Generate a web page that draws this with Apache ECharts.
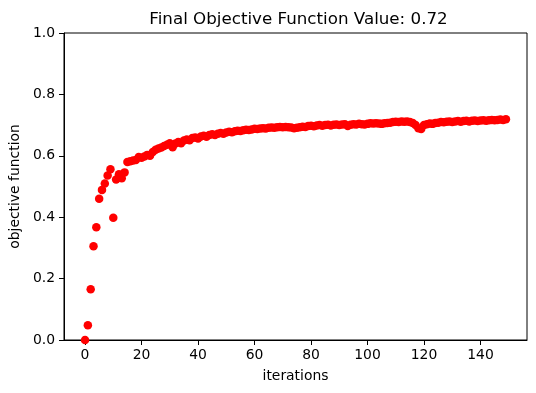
<!DOCTYPE html>
<html>
<head>
<meta charset="utf-8">
<script src="https://cdn.jsdelivr.net/npm/echarts@6/dist/echarts.min.js"></script>
<style>html,body{margin:0;padding:0;background:#fff}#c{width:536px;height:393px}</style>
</head>
<body>
<div id="c"></div>
<script>
const titleText = "Final Objective Function Value: 0.72";
const xLabel = "iterations";
const yLabel = "objective function";
const xTicks = [0, 20, 40, 60, 80, 100, 120, 140];
const yTicks = [0, 0.2, 0.4, 0.6, 0.8, 1.0];
const objective = [
  0.000, 0.048, 0.165, 0.305, 0.367, 0.460, 0.489, 0.510, 0.536, 0.556,
  0.398, 0.523, 0.540, 0.527, 0.546, 0.580, 0.582, 0.585, 0.586, 0.596,
  0.594, 0.598, 0.603, 0.600, 0.612, 0.620, 0.624, 0.627, 0.632, 0.636,
  0.641, 0.628, 0.640, 0.645, 0.641, 0.650, 0.653, 0.651, 0.658, 0.660,
  0.656, 0.663, 0.665, 0.662, 0.668, 0.670, 0.668, 0.672, 0.674, 0.672,
  0.676, 0.678, 0.677, 0.680, 0.682, 0.681, 0.683, 0.685, 0.684, 0.686,
  0.688, 0.687, 0.689, 0.690, 0.689, 0.691, 0.692, 0.691, 0.693, 0.694,
  0.693, 0.694, 0.693, 0.692, 0.690, 0.691, 0.693, 0.695, 0.694, 0.697,
  0.698, 0.696, 0.699, 0.700, 0.698, 0.700, 0.701, 0.699, 0.701, 0.702,
  0.700, 0.702, 0.703, 0.697, 0.701, 0.703, 0.702, 0.704, 0.703, 0.702,
  0.704, 0.706, 0.705, 0.706, 0.705, 0.704, 0.706, 0.707, 0.708, 0.710,
  0.711, 0.710, 0.712, 0.711, 0.712, 0.710, 0.707, 0.700, 0.690, 0.687,
  0.700, 0.703, 0.705, 0.704, 0.707, 0.708, 0.710, 0.709, 0.711, 0.712,
  0.710, 0.712, 0.713, 0.711, 0.713, 0.714, 0.712, 0.714, 0.715, 0.713,
  0.715, 0.716, 0.714, 0.716, 0.717, 0.716, 0.717, 0.718, 0.717, 0.719
];
const points = objective.map((v, i) => [i, v]);
const font = "DejaVu Sans";
const chart = echarts.init(document.getElementById('c'), null, {renderer: 'canvas'});
chart.setOption({
  animation: false,
  backgroundColor: '#fff',
  title: {
    text: titleText, left: 293.5, textAlign: 'center', top: 6,
    textStyle: {fontFamily: font, fontSize: 16.7, fontWeight: 'normal', color: '#000'}
  },
  grid: {left: 60, right: 9, top: 33, bottom: 53, show: true, borderColor: '#000', borderWidth: 1, backgroundColor: 'transparent'},
  xAxis: {
    type: 'value', min: -7.45, max: 156.45,
    name: xLabel, nameLocation: 'middle', nameGap: 29,
    nameTextStyle: {fontFamily: font, fontSize: 13.9, color: '#000'},
    axisLine: {show: true, onZero: false, lineStyle: {color: '#000', width: 1}},
    axisTick: {show: true, length: 5, inside: false, lineStyle: {color: '#000'}, customValues: xTicks},
    axisLabel: {fontFamily: font, fontSize: 13.9, color: '#000', margin: 8, customValues: xTicks},
    splitLine: {show: false}
  },
  yAxis: {
    type: 'value', min: 0, max: 1,
    name: yLabel, nameLocation: 'middle', nameGap: 36, nameRotate: 90,
    nameTextStyle: {fontFamily: font, fontSize: 13.9, color: '#000'},
    axisLine: {show: true, onZero: false, lineStyle: {color: '#000', width: 1}},
    axisTick: {show: true, length: 5, inside: false, lineStyle: {color: '#000'}, customValues: yTicks},
    axisLabel: {fontFamily: font, fontSize: 13.9, color: '#000', margin: 9, customValues: yTicks, formatter: v => v.toFixed(1)},
    splitLine: {show: false}
  },
  series: [{
    type: 'scatter', data: points, symbol: 'circle', symbolSize: 8.5,
    itemStyle: {color: '#ff0000', opacity: 1}
  }]
});
</script>
</body>
</html>
